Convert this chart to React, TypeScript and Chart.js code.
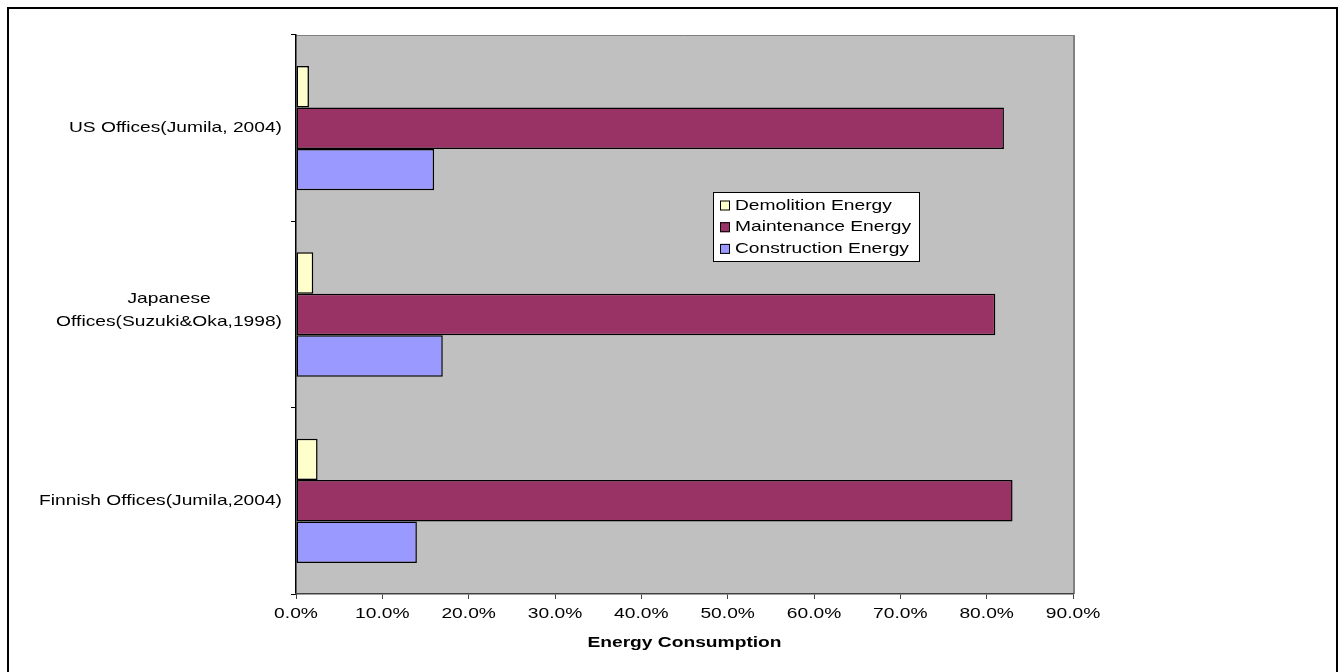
import React, { useEffect, useRef } from 'react';
import { Chart, registerables } from 'chart.js';

Chart.register(...registerables);

// Office building categories (multi-line labels are split into lines)
const categoryLabels: string[][] = [
  ['US Offices(Jumila, 2004)'],
  ['Japanese', 'Offices(Suzuki&Oka,1998)'],
  ['Finnish Offices(Jumila,2004)'],
];

// Share of life-cycle energy, in percent
const seriesNames = ['Demolition Energy', 'Maintenance Energy', 'Construction Energy'];
const demolition = [1.5, 2, 2.5];
const maintenance = [82, 81, 83];
const construction = [16, 17, 14];
const seriesColors = ['#FFFFCC', '#993366', '#9999FF'];

const axisTitle = 'Energy Consumption';
const xMin = 0;
const xMax = 90;
const xStep = 10;

const FONT = '"Liberation Sans", Arial, sans-serif';
const STRETCH = 1.28;

function drawText(
  ctx: CanvasRenderingContext2D,
  text: string,
  x: number,
  y: number,
  align: CanvasTextAlign,
  size: number,
  bold = false
) {
  ctx.save();
  ctx.font = `${bold ? 'bold ' : ''}${size}px ${FONT}`;
  ctx.fillStyle = '#000';
  ctx.textAlign = align;
  ctx.textBaseline = 'middle';
  ctx.translate(x, y);
  ctx.scale(STRETCH, 1);
  ctx.fillText(text, 0, 0);
  ctx.restore();
}

function measure(ctx: CanvasRenderingContext2D, text: string, size: number, bold = false) {
  ctx.save();
  ctx.font = `${bold ? 'bold ' : ''}${size}px ${FONT}`;
  const w = ctx.measureText(text).width * STRETCH;
  ctx.restore();
  return w;
}

// Grey plot background with a shaded right edge
const plotBackground = {
  id: 'plotBackground',
  beforeDraw(chart: any) {
    const { ctx, chartArea: ca } = chart;
    ctx.save();
    ctx.fillStyle = '#C0C0C0';
    ctx.fillRect(ca.left, ca.top, ca.right - ca.left, ca.bottom - ca.top);
    ctx.strokeStyle = '#808080';
    ctx.lineWidth = 1;
    ctx.beginPath();
    ctx.moveTo(ca.left, ca.top + 0.5);
    ctx.lineTo(ca.right, ca.top + 0.5);
    ctx.stroke();
    ctx.lineWidth = 2;
    ctx.beginPath();
    ctx.moveTo(ca.right + 1, ca.top);
    ctx.lineTo(ca.right + 1, ca.bottom);
    ctx.stroke();
    ctx.restore();
  },
};

// Axis labels, axis title and the boxed legend
const textLayer = {
  id: 'textLayer',
  afterDraw(chart: any) {
    const { ctx, chartArea: ca } = chart;
    const yScale = chart.scales.y;
    const xScale = chart.scales.x;

    // category labels
    categoryLabels.forEach((lines, i) => {
      const yc = yScale.getPixelForValue(i);
      const lineH = 23;
      const maxW = Math.max(...lines.map((l) => measure(ctx, l, 15)));
      const right = ca.left - 14;
      const shift = lines.length > 1 ? -4 : 0;
      lines.forEach((line, j) => {
        const y = yc + (j - (lines.length - 1) / 2) * lineH + shift;
        drawText(ctx, line, right - maxW / 2, y, 'center', 15);
      });
    });

    // value tick labels
    xScale.ticks.forEach((t: any) => {
      const x = xScale.getPixelForValue(t.value);
      drawText(ctx, `${Number(t.value).toFixed(1)}%`, x, ca.bottom + 20, 'center', 15);
    });

    // axis title
    drawText(ctx, axisTitle, (ca.left + ca.right) / 2, ca.bottom + 49, 'center', 15, true);

    // legend
    const left = ca.left + 417;
    const top = ca.top + 157;
    const w = 207;
    const h = 70;
    ctx.save();
    ctx.fillStyle = '#FFFFFF';
    ctx.fillRect(left, top, w, h);
    ctx.strokeStyle = '#000';
    ctx.lineWidth = 1;
    ctx.strokeRect(left + 0.5, top + 0.5, w - 1, h - 1);
    chart.data.datasets.forEach((ds: any, k: number) => {
      const yc = top + 13.5 + k * 21.7;
      ctx.fillStyle = ds.backgroundColor;
      ctx.fillRect(left + 7, yc - 5, 10, 10);
      ctx.strokeStyle = '#000';
      ctx.lineWidth = 1;
      ctx.strokeRect(left + 7.5, yc - 4.5, 9, 9);
      drawText(ctx, ds.label, left + 22, yc, 'left', 15);
    });
    ctx.restore();
  },
};

export default function App() {
  const canvasRef = useRef<HTMLCanvasElement | null>(null);

  useEffect(() => {
    if (!canvasRef.current) return;
    const seriesData = [demolition, maintenance, construction];
    const chart = new Chart(canvasRef.current, {
      type: 'bar',
      data: {
        labels: categoryLabels.map((l) => l.join(' ')),
        datasets: seriesNames.map((name, i) => ({
          label: name,
          data: seriesData[i],
          backgroundColor: seriesColors[i],
          borderColor: '#000000',
          borderWidth: 1.5,
          borderSkipped: false,
          barPercentage: 1,
          categoryPercentage: 0.667,
        })),
      },
      options: {
        indexAxis: 'y',
        responsive: false,
        animation: false,
        layout: { padding: { top: 35, right: 270, left: 0, bottom: 0 } },
        plugins: {
          legend: { display: false },
          tooltip: { enabled: false },
        },
        scales: {
          y: {
            type: 'category',
            offset: true,
            ticks: { display: false },
            grid: {
              offset: true,
              drawOnChartArea: false,
              drawTicks: true,
              tickLength: 5,
              color: '#000000',
            },
            border: { color: '#000000', width: 1.5 },
            afterFit: (scale: any) => {
              scale.width = 296;
            },
          },
          x: {
            type: 'linear',
            min: xMin,
            max: xMax,
            ticks: { display: false, stepSize: xStep },
            grid: {
              drawOnChartArea: false,
              drawTicks: true,
              tickLength: 5,
              color: '#404040',
            },
            border: { color: '#404040', width: 1.5 },
            afterFit: (scale: any) => {
              scale.height = 78;
            },
          },
        },
      },
      plugins: [plotBackground, textLayer],
    });
    return () => chart.destroy();
  }, []);

  return (
    <>
      <div
        style={{
          position: 'fixed',
          left: 7,
          top: 7,
          width: 1331,
          height: 665,
          boxSizing: 'border-box',
          borderTop: '2px solid #000',
          borderLeft: '2px solid #000',
          borderRight: '2px solid #000',
          background: '#fff',
        }}
      />
      <canvas
        ref={canvasRef}
        width={1343}
        height={672}
        style={{ position: 'fixed', left: 0, top: 0, width: 1343, height: 672 }}
      />
    </>
  );
}
